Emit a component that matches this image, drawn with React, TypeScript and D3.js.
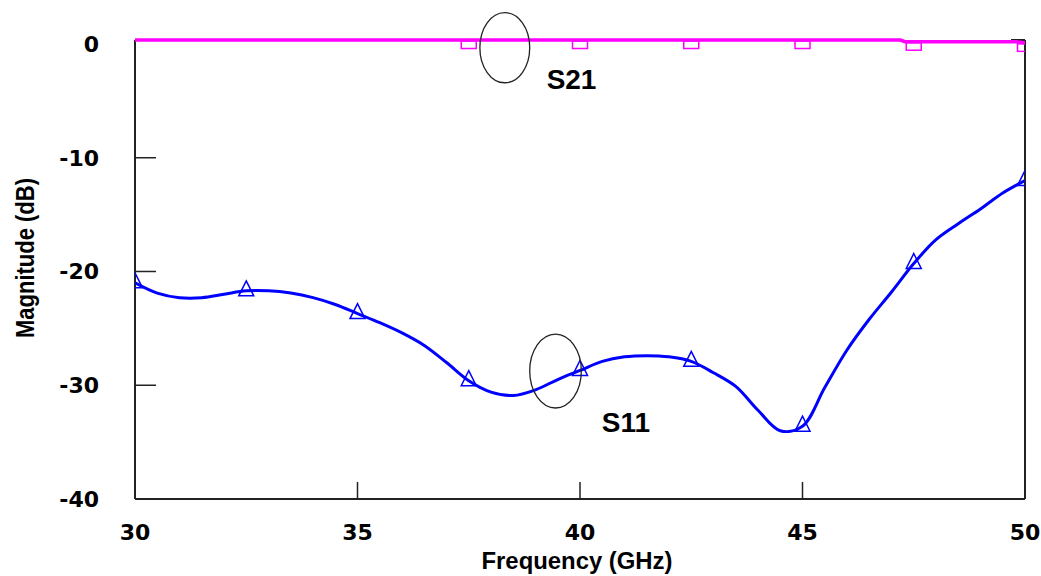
import React from "react";
import * as d3 from "d3";

// ---- data ----
const s11Freq = [30, 30.5, 31, 31.5, 32, 32.5, 33, 33.5, 34, 34.5, 35, 35.5, 36, 36.5, 37, 37.5, 38, 38.5, 39, 39.5, 40, 40.5, 41, 41.5, 42, 42.5, 43, 43.5, 44, 44.5, 45, 45.5, 46, 46.5, 47, 47.5, 48, 48.5, 49, 49.5, 50];
const s11Mag = [-21.0, -21.9, -22.3, -22.3, -22.0, -21.7, -21.7, -21.9, -22.3, -22.9, -23.7, -24.5, -25.4, -26.5, -28.0, -29.6, -30.6, -30.9, -30.4, -29.5, -28.7, -27.9, -27.5, -27.4, -27.5, -27.9, -28.9, -30.1, -32.2, -34.0, -33.6, -30.2, -26.9, -24.2, -21.8, -19.3, -17.2, -15.8, -14.5, -13.1, -12.0];
const s11MarkerFreq = [30, 32.5, 35, 37.5, 40, 42.5, 45, 47.5, 50];

const s21Freq = [30, 35, 40, 45, 47.2, 47.3, 49.8, 50];
const s21Mag = [0.35, 0.35, 0.35, 0.35, 0.35, 0.2, 0.2, 0.1];
const s21MarkerFreq = [37.5, 40, 42.5, 45, 47.5, 50];

const xTicks = [30, 35, 40, 45, 50];
const yTicks = [0, -10, -20, -30, -40];
const xTicksInner = [35, 40, 45];
const yTicksInner = [-10, -20, -30];

// annotations (data coords)
const ellipses = [
  { f: 38.31, m: -0.33, rf: 0.56, rm: 3.08 },
  { f: 39.45, m: -28.75, rf: 0.58, rm: 3.25 },
];
const labels = [
  { text: "S21", f: 39.25, m: -3.96 },
  { text: "S11", f: 40.49, m: -34.11 },
];

const W = 1041;
const H = 576;

export default function App() {
  const x = d3.scaleLinear().domain([30, 50]).range([135, 1025]);
  const y = d3.scaleLinear().domain([-40, 0.35]).range([499, 40]);

  const s11 = s11Freq.map((f, i) => [f, s11Mag[i]] as [number, number]);
  const s21 = s21Freq.map((f, i) => [f, s21Mag[i]] as [number, number]);

  const line = d3
    .line<[number, number]>()
    .x((d) => x(d[0]))
    .y((d) => y(d[1]))
    .curve(d3.curveCatmullRom.alpha(0.5));
  const lineLin = d3
    .line<[number, number]>()
    .x((d) => x(d[0]))
    .y((d) => y(d[1]));

  const s11At = (f: number) => s11Mag[s11Freq.indexOf(f)];
  const s21At = (f: number) => {
    // linear lookup in s21 arrays
    for (let i = 0; i < s21Freq.length - 1; i++) {
      if (f >= s21Freq[i] && f <= s21Freq[i + 1]) {
        const t = (f - s21Freq[i]) / (s21Freq[i + 1] - s21Freq[i]);
        return s21Mag[i] + t * (s21Mag[i + 1] - s21Mag[i]);
      }
    }
    return s21Mag[s21Mag.length - 1];
  };

  const x0 = x(30), x1 = x(50), yT = y(0.35), yB = y(-40);
  const axisColor = "#222";

  return (
    <svg
      width={W}
      height={H}
      style={{ position: "absolute", left: 0, top: 0, background: "#fff" }}
    >
      <defs>
        <clipPath id="plot">
          <rect x={x0} y={yT - 4} width={x1 - x0} height={yB - yT + 4} />
        </clipPath>
      </defs>
      <rect x={0} y={0} width={W} height={H} fill="#fff" />

      {/* axes frame */}
      <line x1={x0} y1={yT} x2={x0} y2={yB} stroke={axisColor} strokeWidth={2} />
      <line x1={x0} y1={yB} x2={x1} y2={yB} stroke={axisColor} strokeWidth={2} />
      <line x1={x1} y1={yT} x2={x1} y2={yB} stroke={axisColor} strokeWidth={2} />
      <line x1={x1 - 14} y1={yT} x2={x1} y2={yT} stroke={axisColor} strokeWidth={2} />

      {/* inner ticks */}
      {yTicksInner.map((t) => (
        <line key={"yt" + t} x1={x0} x2={x0 + 21} y1={y(t)} y2={y(t)} stroke={axisColor} strokeWidth={1.5} />
      ))}
      {xTicksInner.map((t) => (
        <line key={"xt" + t} x1={x(t)} x2={x(t)} y1={yB} y2={yB - 17} stroke={axisColor} strokeWidth={1.5} />
      ))}

      {/* tick labels */}
      {yTicks.map((t) => (
        <text
          key={"yl" + t}
          x={99}
          y={y(t) + 8}
          textAnchor="end"
          fontFamily="DejaVu Sans"
          fontWeight="bold"
          fontSize={22}
          fill="#000"
        >
          {t}
        </text>
      ))}
      {xTicks.map((t) => (
        <text
          key={"xl" + t}
          x={x(t)}
          y={540}
          textAnchor="middle"
          fontFamily="DejaVu Sans"
          fontWeight="bold"
          fontSize={22}
          fill="#000"
        >
          {t}
        </text>
      ))}

      {/* axis titles */}
      <text
        x={577}
        y={569}
        textAnchor="middle"
        fontFamily="Liberation Sans"
        fontWeight="bold"
        fontSize={24}
        textLength={191}
        lengthAdjust="spacingAndGlyphs"
        fill="#000"
      >
        Frequency (GHz)
      </text>
      <text
        transform="translate(34,258) rotate(-90)"
        textAnchor="middle"
        fontFamily="Liberation Sans"
        fontWeight="bold"
        fontSize={26}
        textLength={160}
        lengthAdjust="spacingAndGlyphs"
        fill="#000"
      >
        Magnitude (dB)
      </text>

      <g clipPath="url(#plot)">
        {/* S11 */}
        <path d={line(s11) || ""} fill="none" stroke="#0000ff" strokeWidth={3} />
        {s11MarkerFreq.map((f) => {
          const cx = x(f);
          const cy = y(s11At(f));
          return (
            <path
              key={"m11" + f}
              d={`M${cx},${cy - 10} L${cx + 7.5},${cy + 5} L${cx - 7.5},${cy + 5} Z`}
              fill="none"
              stroke="#0000ff"
              strokeWidth={1.5}
            />
          );
        })}
        {/* S21 */}
        <path d={lineLin(s21) || ""} fill="none" stroke="#ff00ff" strokeWidth={3.5} />
        {s21MarkerFreq.map((f) => {
          const cx = x(f);
          const cy = y(s21At(f));
          return (
            <rect
              key={"m21" + f}
              x={cx - 7.5}
              y={cy + 1}
              width={15}
              height={7.5}
              fill="none"
              stroke="#ff00ff"
              strokeWidth={1.5}
            />
          );
        })}
      </g>

      {/* annotations */}
      {ellipses.map((e, i) => (
        <ellipse
          key={"el" + i}
          cx={x(e.f)}
          cy={y(e.m)}
          rx={x(e.f + e.rf) - x(e.f)}
          ry={y(e.m - e.rm) - y(e.m)}
          fill="none"
          stroke="#222"
          strokeWidth={1.3}
        />
      ))}
      {labels.map((l) => (
        <text
          key={l.text}
          x={x(l.f)}
          y={y(l.m)}
          fontFamily="Liberation Sans"
          fontWeight="bold"
          fontSize={28}
          fill="#000"
        >
          {l.text}
        </text>
      ))}
    </svg>
  );
}
